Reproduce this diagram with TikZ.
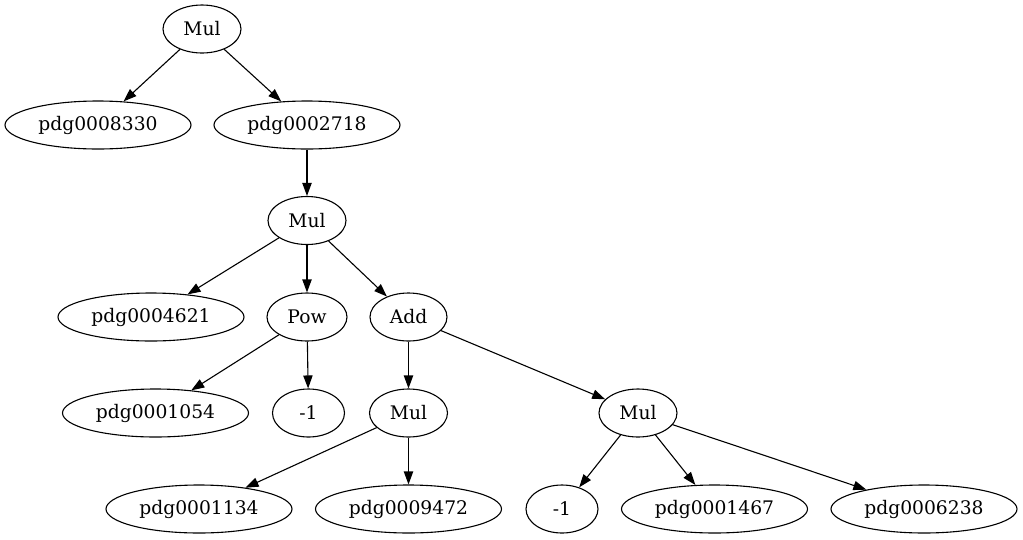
\documentclass[tikz,border=0pt]{standalone}
\usepackage{fontspec}
\setmainfont{DejaVu Serif}
\usetikzlibrary{shapes.geometric,arrows.meta}
\tikzset{
  gv/.style={ellipse, draw, line width=1.1pt, inner sep=0pt, minimum height=48pt,
    font=\fontsize{18.7pt}{22pt}\selectfont},
  wide/.style={gv, minimum width=186pt},
  small/.style={gv, minimum width=78pt},
  tiny/.style={gv, minimum width=72pt},
  edge/.style={line width=1.1pt, -{Triangle[length=13pt,width=9.3pt]}}
}
\begin{document}
\begin{tikzpicture}[x=1pt,y=-1pt]
\useasboundingbox (0,0) rectangle (1023,539);
\node[small] (m1) at (202,29) {Mul};
\node[wide] (p8330) at (98,125) {pdg0008330};
\node[wide] (p2718) at (307,125) {pdg0002718};
\node[small] (m2) at (307,220.5) {Mul};
\node[wide] (p4621) at (151,317) {pdg0004621};
\node[gv, minimum width=80pt] (pow) at (307,317) {Pow};
\node[small, minimum width=77pt] (add) at (408.5,317) {Add};
\node[wide] (p1054) at (155.5,413) {pdg0001054};
\node[tiny] (n1) at (308.5,413) {-1};
\node[small] (m3) at (408.5,413) {Mul};
\node[small] (m4) at (638,413) {Mul};
\node[wide] (p1134) at (199,509) {pdg0001134};
\node[wide] (p9472) at (408.5,509) {pdg0009472};
\node[tiny] (n2) at (562,509) {-1};
\node[wide] (p1467) at (714.5,509) {pdg0001467};
\node[wide] (p6238) at (924,509) {pdg0006238};
\draw[edge] (m1) -- (p8330);
\draw[edge] (m1) -- (p2718);
\draw[edge] (p2718) -- (m2);
\draw[edge] (m2) -- (p4621);
\draw[edge] (m2) -- (pow);
\draw[edge] (m2) -- (add);
\draw[edge] (pow) -- (p1054);
\draw[edge] (pow) -- (n1);
\draw[edge] (add) -- (m3);
\draw[edge] (add) -- (m4);
\draw[edge] (m3) -- (p1134);
\draw[edge] (m3) -- (p9472);
\draw[edge] (m4) -- (n2);
\draw[edge] (m4) -- (p1467);
\draw[edge] (m4) -- (p6238);
\end{tikzpicture}
\end{document}
